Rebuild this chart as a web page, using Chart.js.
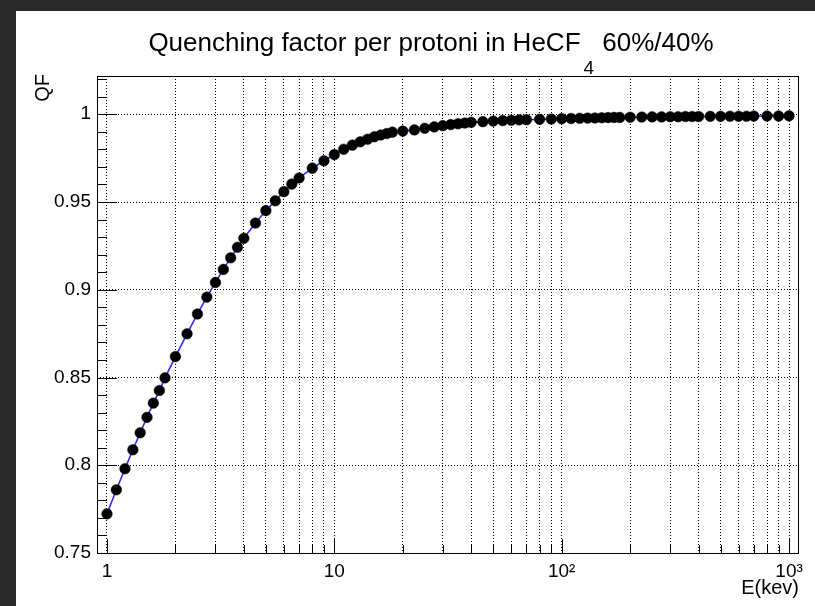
<!DOCTYPE html>
<html>
<head>
<meta charset="utf-8">
<script src="https://cdn.jsdelivr.net/npm/chart.js@4"></script>
<style>
  html, body { margin: 0; padding: 0; background: #2a2a2a; }
  #wrap { width: 815px; height: 606px; }
</style>
</head>
<body>
<div id="wrap"><canvas id="chart" width="815" height="606"></canvas></div>
<script>
// energies (keV) and quenching factor
const energies = [1, 1.1, 1.2, 1.3, 1.4, 1.5, 1.6, 1.7, 1.8, 2, 2.25, 2.5, 2.75, 3, 3.25, 3.5, 3.75, 4,
  4.5, 5, 5.5, 6, 6.5, 7, 8, 9, 10, 11, 12, 13, 14, 15, 16, 17, 18, 20, 22.5, 25, 27.5, 30, 32.5, 35, 37.5, 40,
  45, 50, 55, 60, 65, 70, 80, 90, 100, 110, 120, 130, 140, 150, 160, 170, 180, 200, 225, 250, 275, 300,
  325, 350, 375, 400, 450, 500, 550, 600, 650, 700, 800, 900, 1000];
const qf = [0.7723, 0.7860, 0.7980, 0.8088, 0.8185, 0.8273, 0.8354, 0.8426, 0.8498, 0.8619, 0.8749, 0.8862,
  0.8958, 0.9042, 0.9116, 0.9182, 0.9242, 0.9293, 0.9380, 0.9451, 0.9507, 0.9559, 0.9602, 0.9637, 0.9693,
  0.9735, 0.9770, 0.9801, 0.9824, 0.9843, 0.9858, 0.9872, 0.9882, 0.9890, 0.9898, 0.9904, 0.9911, 0.9920,
  0.9928, 0.9935, 0.9941, 0.9946, 0.9950, 0.9954,
  0.9958, 0.9961, 0.9964, 0.9966, 0.9968, 0.9969, 0.9971, 0.9973, 0.9975, 0.9976, 0.9977, 0.9978, 0.9979,
  0.9980, 0.9981, 0.9982, 0.9982, 0.9983, 0.9984, 0.9985, 0.9985, 0.9986, 0.9986, 0.9987, 0.9987, 0.9987,
  0.9988, 0.9988, 0.9989, 0.9989, 0.9989, 0.9990, 0.9990, 0.9990, 0.9991];

const xTickValues = [1, 10, 100, 1000];
const xTickLabels = ['1', '10', '10²', '10³'];
const yTickValues = [0.75, 0.8, 0.85, 0.9, 0.95, 1];
const yTickLabels = ['0.75', '0.8', '0.85', '0.9', '0.95', '1'];

const FONT = '"Liberation Sans", Arial, Helvetica, sans-serif';

// grid at 1..9 x each decade
const xGrid = [];
for (const d of [1, 10, 100]) {
  for (let k = 1; k < 10; k++) xGrid.push(k * d);
}
xGrid.push(1000);

const rootFrame = {
  id: 'rootFrame',
  beforeDraw(chart) {
    const { ctx, width, height } = chart;
    ctx.save();
    ctx.fillStyle = '#2a2a2a';
    ctx.fillRect(0, 0, width, height);
    ctx.fillStyle = '#fff';
    ctx.fillRect(16, 11, width - 16, height - 11);
    ctx.restore();
  },
  beforeDatasetsDraw(chart) {
    const { ctx, chartArea: a, scales: { x, y } } = chart;
    ctx.save();
    ctx.strokeStyle = '#000';
    ctx.lineWidth = 1;
    ctx.beginPath();
    // ticks on y axis, every 0.01
    for (let i = 75; i <= 102; i++) {
      const py = Math.round(y.getPixelForValue(i / 100)) + 0.5;
      const len = i % 5 === 0 ? 20 : 10;
      ctx.moveTo(a.left, py);
      ctx.lineTo(a.left + len, py);
    }
    // ticks on x axis
    for (const v of xGrid) {
      const px = Math.round(x.getPixelForValue(v)) + 0.5;
      const len = xTickValues.includes(v) ? 14 : 8;
      ctx.moveTo(px, a.bottom);
      ctx.lineTo(px, a.bottom - len);
    }
    ctx.stroke();
    ctx.strokeRect(Math.round(a.left) + 0.5, Math.round(a.top) + 0.5,
      Math.round(a.right - a.left), Math.round(a.bottom - a.top));
    ctx.restore();
  },
  afterDraw(chart) {
    const { ctx, chartArea: a } = chart;
    ctx.save();
    ctx.fillStyle = '#000';
    ctx.textBaseline = 'alphabetic';

    // title with subscript
    const t1 = 'Quenching factor per protoni in HeCF';
    const t2 = ' 60%/40%';
    ctx.font = '26px ' + FONT;
    const w1 = ctx.measureText(t1).width;
    const w2 = ctx.measureText(t2).width;
    ctx.font = '19px ' + FONT;
    const ws = ctx.measureText('4').width + 4;
    const tx = 431 - (w1 + ws + w2) / 2;
    ctx.font = '26px ' + FONT;
    ctx.fillText(t1, tx, 51);
    ctx.font = '19px ' + FONT;
    ctx.fillText('4', tx + w1 + 3, 74);
    ctx.font = '26px ' + FONT;
    ctx.fillText(t2, tx + w1 + ws, 51);

    // axis titles
    ctx.font = '20px ' + FONT;
    ctx.textAlign = 'right';
    ctx.fillText('E(kev)', 799, 594);
    ctx.translate(49, a.top - 2);
    ctx.rotate(-Math.PI / 2);
    ctx.fillText('QF', 0, 0);
    ctx.restore();
  }
};

new Chart(document.getElementById('chart'), {
  type: 'line',
  data: {
    datasets: [{
      data: energies.map((e, i) => ({ x: e, y: qf[i] })),
      borderColor: 'rgb(45, 45, 255)',
      borderWidth: 1.6,
      pointRadius: 5.3,
      pointBackgroundColor: '#000',
      pointBorderColor: '#000',
      pointBorderWidth: 0.5,
      tension: 0
    }]
  },
  options: {
    responsive: false,
    animation: false,
    layout: { padding: { top: 76, right: 17, left: 0, bottom: 0 } },
    plugins: {
      legend: { display: false },
      title: { display: false },
      tooltip: { enabled: false }
    },
    scales: {
      x: {
        type: 'logarithmic',
        min: 0.904,
        max: 1095,
        afterBuildTicks: (s) => { s.ticks = xGrid.map((v) => ({ value: v })); },
        afterFit: (s) => { s.height = 53; },
        ticks: {
          autoSkip: false,
          maxRotation: 0,
          padding: 7,
          color: '#000',
          font: { size: 19, family: FONT },
          callback: (v) => {
            const i = xTickValues.indexOf(v);
            return i >= 0 ? xTickLabels[i] : '';
          }
        },
        grid: { color: '#000', lineWidth: 1, drawTicks: false },
        border: { display: false, dash: [1, 2] }
      },
      y: {
        min: 0.75,
        max: 1.0218,
        afterBuildTicks: (s) => { s.ticks = yTickValues.map((v) => ({ value: v })); },
        afterFit: (s) => { s.width = 97; },
        ticks: {
          padding: 6,
          color: '#000',
          font: { size: 19, family: FONT },
          callback: (v) => {
            const i = yTickValues.indexOf(v);
            return i >= 0 ? yTickLabels[i] : '';
          }
        },
        grid: { color: '#000', lineWidth: 1, drawTicks: false },
        border: { display: false, dash: [1, 2] }
      }
    }
  },
  plugins: [rootFrame]
});
</script>
</body>
</html>
